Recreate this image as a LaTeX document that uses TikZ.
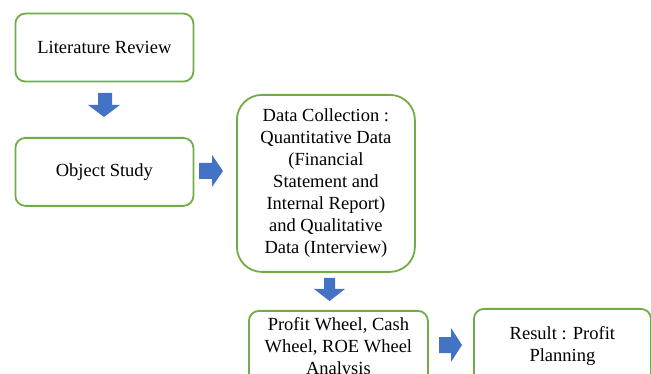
\documentclass[tikz,border=0pt]{standalone}
\usepackage{fontspec}
\setmainfont{Liberation Serif}
\begin{document}
\begin{tikzpicture}[x=1pt,y=-1pt,
  box/.style={draw=boxgreen, line width=1.8pt, fill=white, align=center,
    inner sep=0pt, font=\fontsize{18.5}{22}\selectfont, text=black},
  blockarrow/.style={fill=arrowblue, draw=none}]
\definecolor{boxgreen}{HTML}{70AD47}
\definecolor{arrowblue}{HTML}{4472C4}
\useasboundingbox (0,0) rectangle (651,374);
\clip (0,0) rectangle (651,374);
% boxes
\node[box, rounded corners=10pt, minimum width=178pt, minimum height=68pt, anchor=north west]
  (lit) at (14.5,12.7) {Literature Review};
\node[box, rounded corners=10pt, minimum width=178pt, minimum height=68pt, anchor=north west]
  (obj) at (14.5,137) {Object Study};
\node[box, rounded corners=25pt, minimum width=178pt, minimum height=177pt, anchor=north west]
  (data) at (236,94) {Data Collection :\\Quantitative Data\\(Financial\\Statement and\\Internal Report)\\and Qualitative\\Data (Interview)};
\node[box, rounded corners=10pt, minimum width=179pt, minimum height=74pt, anchor=north west]
  (wheel) at (248,310) {Profit Wheel, Cash\\Wheel, ROE Wheel\\Analysis};
\node[box, rounded corners=10pt, minimum width=177pt, minimum height=74pt, anchor=north west]
  (res) at (473,308) {Result : Profit\\Planning};
% block arrows
\fill[blockarrow] (98,93) -- (112,93) -- (112,105) -- (120,105) -- (104,117) -- (88,105) -- (98,105) -- cycle;
\fill[blockarrow] (199,163) -- (212,163) -- (212,155) -- (223,171) -- (212,187) -- (212,179) -- (199,179) -- cycle;
\fill[blockarrow] (324,278) -- (335,278) -- (335,289) -- (345,289) -- (329.5,301) -- (314,289) -- (324,289) -- cycle;
\fill[blockarrow] (439,337) -- (451,337) -- (451,328) -- (462,345) -- (451,362) -- (451,353) -- (439,353) -- cycle;
\end{tikzpicture}
\end{document}
